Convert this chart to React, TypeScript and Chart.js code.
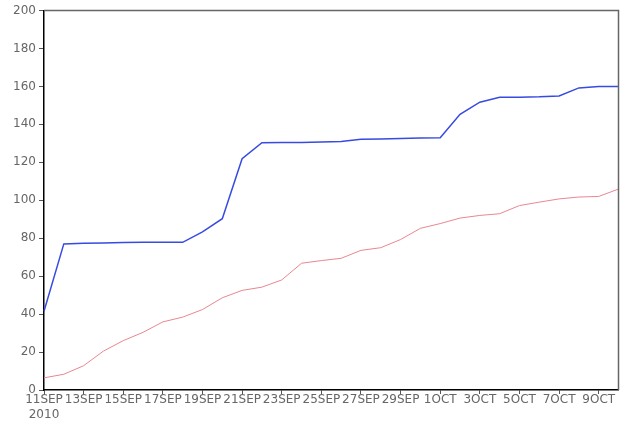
import React, { useEffect, useRef } from "react";
import { Chart, registerables } from "chart.js";

Chart.register(...registerables);

const dayLabels = [
  "11SEP", "12SEP", "13SEP", "14SEP", "15SEP", "16SEP", "17SEP", "18SEP", "19SEP", "20SEP",
  "21SEP", "22SEP", "23SEP", "24SEP", "25SEP", "26SEP", "27SEP", "28SEP", "29SEP", "30SEP",
  "1OCT", "2OCT", "3OCT", "4OCT", "5OCT", "6OCT", "7OCT", "8OCT", "9OCT", "10OCT",
];
const yearLabel = "2010";

const blueSeries = [
  41.5, 77, 77.3, 77.5, 77.7, 77.8, 77.8, 77.8, 83.3, 90.3,
  121.9, 130.3, 130.4, 130.5, 130.7, 131, 132.1, 132.3, 132.6, 132.8,
  133, 145.3, 151.7, 154.3, 154.3, 154.5, 155, 159.2, 159.9, 160,
];
const redSeries = [
  6.4, 8.3, 12.8, 20.5, 26, 30.4, 35.9, 38.4, 42.4, 48.6,
  52.5, 54.2, 58, 66.8, 68.2, 69.4, 73.6, 75, 79.3, 85.2,
  87.7, 90.6, 92, 92.9, 97.2, 99, 100.7, 101.7, 102, 105.9,
];

const yMin = 0;
const yMax = 200;
const yStep = 20;

const framePlugin = {
  id: "frame",
  afterDraw(chart: any) {
    const { ctx, chartArea } = chart;
    ctx.save();
    ctx.strokeStyle = "#666";
    ctx.lineWidth = 1.5;
    ctx.beginPath();
    ctx.moveTo(chartArea.left, chartArea.top);
    ctx.lineTo(chartArea.right, chartArea.top);
    ctx.lineTo(chartArea.right, chartArea.bottom);
    ctx.stroke();
    ctx.restore();
  },
};

export default function App() {
  const ref = useRef<HTMLCanvasElement | null>(null);

  useEffect(() => {
    document.body.style.margin = "0";
    if (!ref.current) return;
    const font = { family: "'DejaVu Sans', sans-serif", size: 12, lineHeight: 1.25 };
    const chart = new Chart(ref.current, {
      type: "line",
      data: {
        labels: dayLabels,
        datasets: [
          {
            data: blueSeries,
            borderColor: "rgb(55,75,225)",
            borderWidth: 1.5,
            pointRadius: 0,
            tension: 0,
          },
          {
            data: redSeries,
            borderColor: "rgb(232,135,145)",
            borderWidth: 1,
            pointRadius: 0,
            tension: 0,
          },
        ],
      },
      options: {
        animation: false,
        responsive: false,
        layout: { padding: { top: 6, right: 4.5, left: 0, bottom: 0 } },
        plugins: { legend: { display: false }, tooltip: { enabled: false } },
        scales: {
          x: {
            type: "category",
            offset: false,
            border: { color: "#000", width: 1.5 },
            grid: {
              drawOnChartArea: false,
              tickLength: 4,
              color: (c: any) => (c.index % 2 === 0 ? "#555" : "rgba(0,0,0,0)"),
            },
            ticks: {
              autoSkip: false,
              maxRotation: 0,
              minRotation: 0,
              padding: -2,
              color: "#666",
              font,
              callback: (_v: any, i: number) =>
                i % 2 === 0 ? (i === 0 ? [dayLabels[i], yearLabel] : dayLabels[i]) : "",
            },
            afterFit: (s: any) => {
              s.height = 34;
            },
          },
          y: {
            min: yMin,
            max: yMax,
            border: { color: "#000", width: 1.5 },
            grid: { drawOnChartArea: false, tickLength: 5, color: "#555" },
            ticks: { stepSize: yStep, padding: 3, color: "#666", font },
            afterFit: (s: any) => {
              s.width = 44;
            },
          },
        },
      },
      plugins: [framePlugin],
    });
    return () => chart.destroy();
  }, []);

  return <canvas ref={ref} width={623} height={424} style={{ display: "block" }} />;
}
